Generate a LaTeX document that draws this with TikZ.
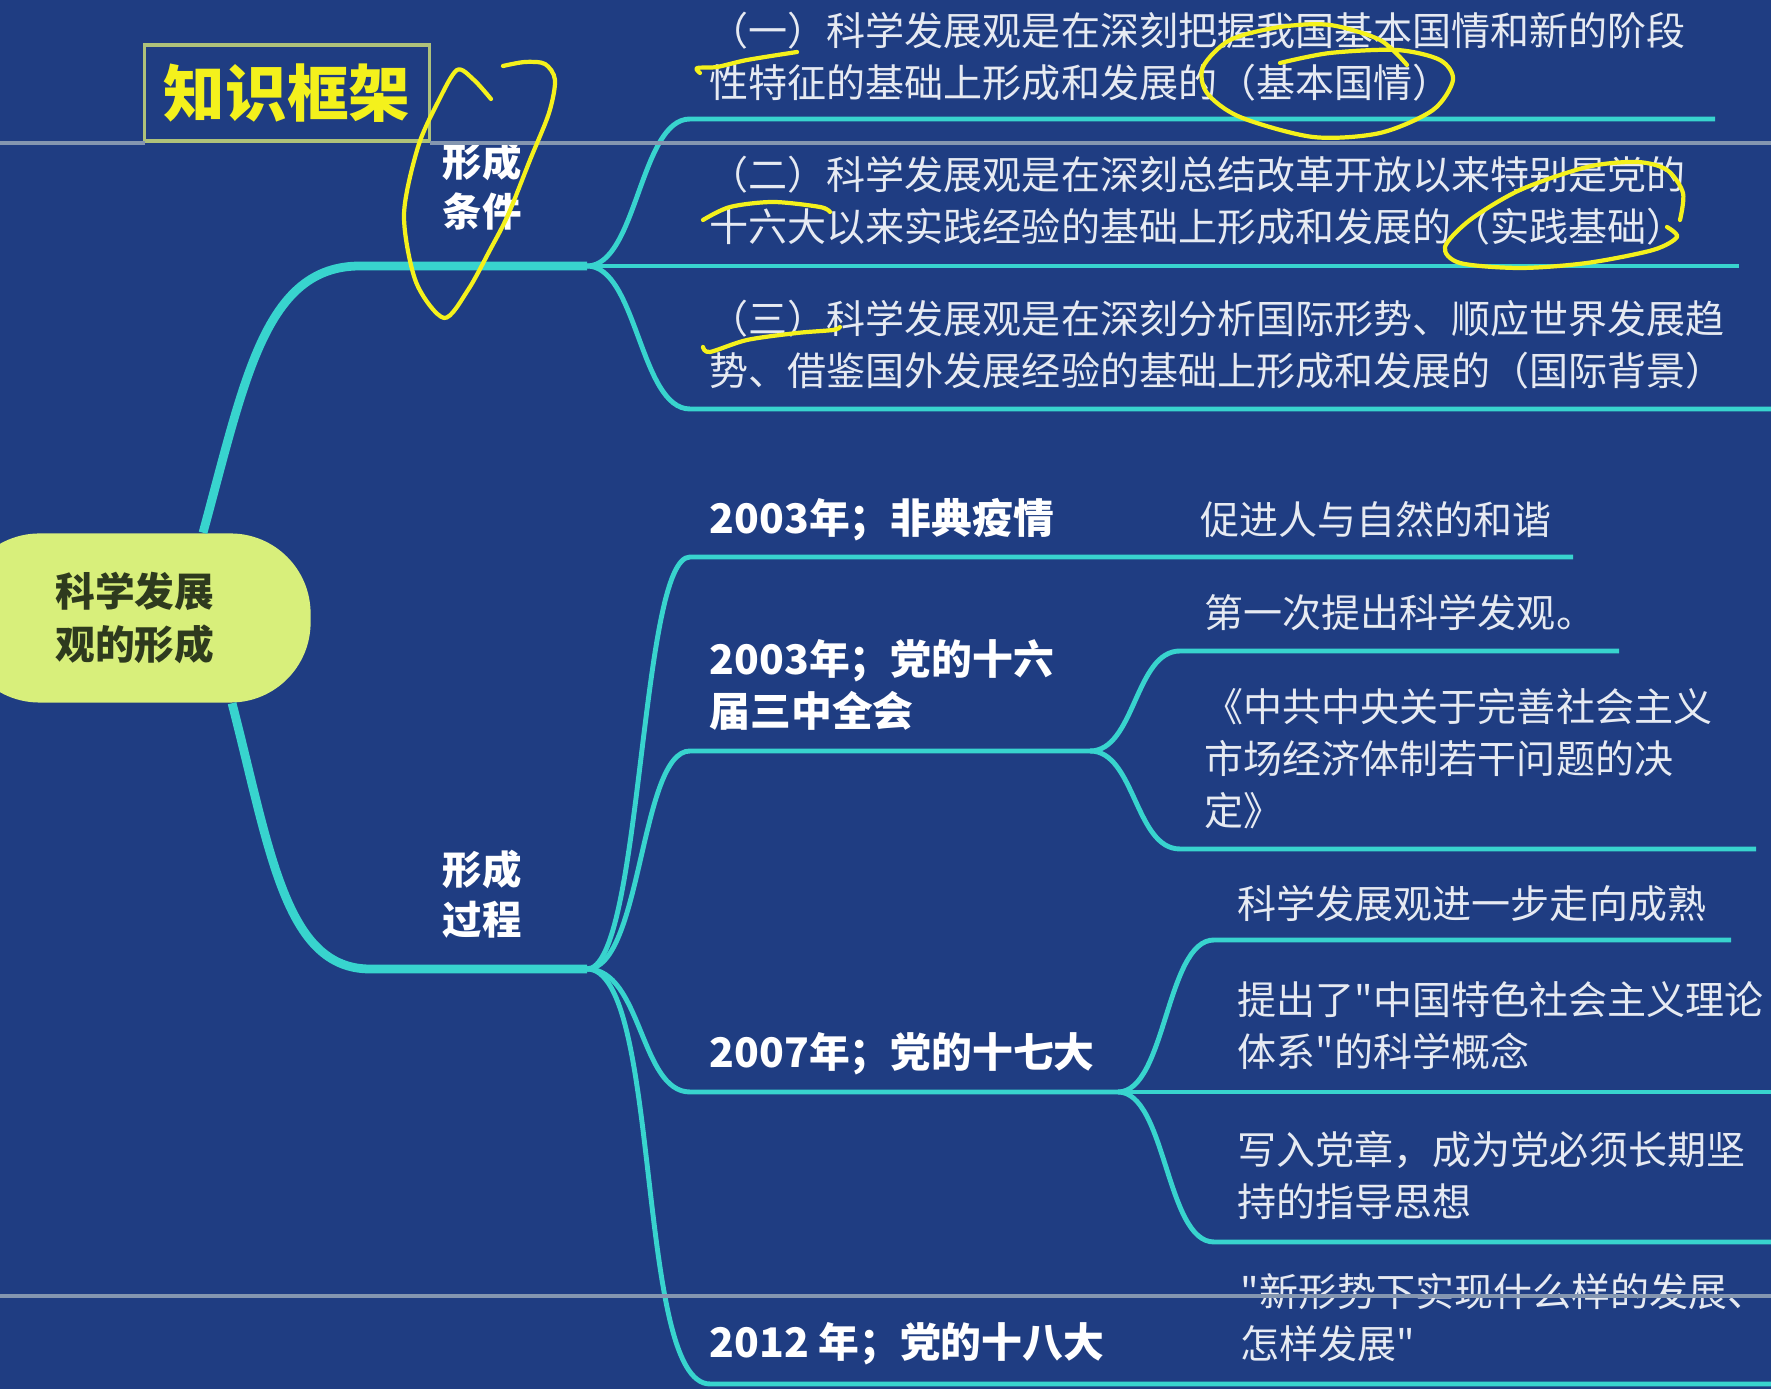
\documentclass[tikz,border=0pt]{standalone}
\usepackage{fontspec}
\setmainfont{Noto Sans CJK SC}
\newfontfamily\cjk{Noto Sans CJK SC}
\definecolor{bg}{HTML}{1F3D82}
\definecolor{branch}{HTML}{38D4CE}
\definecolor{ruleln}{HTML}{8496B0}
\definecolor{rootfill}{HTML}{D8EF7B}
\definecolor{roottxt}{HTML}{2E3A1E}
\definecolor{boxline}{HTML}{AFC27A}
\definecolor{hl}{HTML}{F4F11C}
\definecolor{txt}{HTML}{E6EAF2}
\begin{document}
\begin{tikzpicture}[x=0.01cm,y=-0.01cm,
	every node/.style={inner sep=0pt,text=txt},
	body/.style={anchor=west,align=left,font=\cjk\fontsize{11.1pt}{14.8pt}\selectfont},
	year/.style={anchor=west,align=left,font=\cjk\fontsize{11.6pt}{14.8pt}\selectfont\bfseries,text=white},
	topic/.style={align=center,font=\cjk\fontsize{11.2pt}{14.2pt}\selectfont\bfseries,text=white},
	main/.style={draw=branch,line width=2.5pt},
	sub/.style={draw=branch,line width=1.4pt},
	ruleline/.style={draw=ruleln,line width=1pt},
	scribble/.style={draw=hl,line width=1.2pt,line cap=round,line join=round}]
	\useasboundingbox (0,0) rectangle (1771,1389) ;
	\clip (0,0) rectangle (1771,1389) ;
	\fill[bg] (0,0) rectangle (1771,1389) ;

		\node (root)[fill=rootfill,rounded corners=0.8cm,minimum width=3.51cm,minimum height=1.69cm,align=center,text=roottxt,font=\cjk\fontsize{11.3pt}{15pt}\selectfont\bfseries] at (135,618) {科学发展\\观的形成} ;
		\node (kb)[draw=boxline,line width=1pt,minimum width=2.85cm,minimum height=0.96cm,text=hl,font=\cjk\fontsize{17.5pt}{20pt}\selectfont\bfseries] at (287,93) {知识框架} ;
		\node (cond)[topic] at (482,186) {形成\\条件} ;
		\node (proc)[topic] at (482,894) {形成\\过程} ;

		\coordinate (a0) at (360,266) ;
		\coordinate (A) at (587,266) ;
		\coordinate (b0) at (370,969) ;
		\coordinate (B) at (587,969) ;
		\coordinate (s1) at (690,119) ; \coordinate (e1) at (1715,119) ;
		\coordinate (e2) at (1739,266) ;
		\coordinate (s3) at (690,409) ; \coordinate (e3) at (1771,409) ;
		\coordinate (s4) at (690,557) ; \coordinate (e4) at (1573,557) ;
		\coordinate (s5) at (690,751) ; \coordinate (C) at (1090,751) ;
		\coordinate (s6) at (690,1092) ; \coordinate (D) at (1118,1092) ;
		\coordinate (s7) at (710,1384) ; \coordinate (e7) at (1771,1384) ;
		\coordinate (s8) at (1180,651) ; \coordinate (e8) at (1619,651) ;
		\coordinate (s9) at (1180,849) ; \coordinate (e9) at (1756,849) ;
		\coordinate (s10) at (1214,940) ; \coordinate (e10) at (1731,940) ;
		\coordinate (e11) at (1771,1092) ;
		\coordinate (s12) at (1214,1242) ; \coordinate (e12) at (1771,1242) ;

		\node (t1)[body] at (709,57) {（一）科学发展观是在深刻把握我国基本国情和新的阶段\\性特征的基础上形成和发展的（基本国情）} ;
		\node (t2)[body] at (709,201) {（二）科学发展观是在深刻总结改革开放以来特别是党的\\十六大以来实践经验的基础上形成和发展的（实践基础）} ;
		\node (t3)[body] at (709,345) {（三）科学发展观是在深刻分析国际形势、顺应世界发展趋\\势、借鉴国外发展经验的基础上形成和发展的（国际背景）} ;
		\node (p1)[year] at (709,520) {2003年；非典疫情} ;
		\node (p1a)[body] at (1200,520) {促进人与自然的和谐} ;
		\node (p2)[year] at (709,685) {2003年；党的十六\\届三中全会} ;
		\node (p2a)[body] at (1204,613) {第一次提出科学发观。} ;
		\node (p2b)[body] at (1204,759) {《中共中央关于完善社会主义\\市场经济体制若干问题的决\\定》} ;
		\node (p3)[year] at (709,1054) {2007年；党的十七大} ;
		\node (p3a)[body] at (1237,904) {科学发展观进一步走向成熟} ;
		\node (p3b)[body] at (1237,1026) {提出了"中国特色社会主义理论\\体系"的科学概念} ;
		\node (p3c)[body] at (1237,1175) {写入党章，成为党必须长期坚\\持的指导思想} ;
		\node (p4)[year] at (709,1344) {2012 年；党的十八大} ;
		\node (p4a)[body] at (1240,1318) {"新形势下实现什么样的发展、\\怎样发展"} ;

	\draw[main] ([xshift=0.68cm]root.north) .. controls +(42,-154) and +(-95,0) .. (a0) -- (A) ;
	\draw[main] ([xshift=0.97cm]root.south) .. controls +(38,147) and +(-85,0) .. (b0) -- (B) ;
	\draw[sub] (A) .. controls +(50,0) and +(-50,0) .. (s1) -- (e1) ;
	\draw[sub] (A) -- (e2) ;
	\draw[sub] (A) .. controls +(50,0) and +(-50,0) .. (s3) -- (e3) ;
	\draw[sub] (B) .. controls +(55,0) and +(-50,0) .. (s4) -- (e4) ;
	\draw[sub] (B) .. controls +(55,0) and +(-50,0) .. (s5) -- (C) ;
	\draw[sub] (B) .. controls +(55,0) and +(-50,0) .. (s6) -- (D) ;
	\draw[sub] (B) .. controls +(75,0) and +(-75,0) .. (s7) -- (e7) ;
	\draw[sub] (C) .. controls +(45,0) and +(-45,0) .. (s8) -- (e8) ;
	\draw[sub] (C) .. controls +(45,0) and +(-45,0) .. (s9) -- (e9) ;
	\draw[sub] (D) .. controls +(48,0) and +(-48,0) .. (s10) -- (e10) ;
	\draw[sub] (D) -- (e11) ;
	\draw[sub] (D) .. controls +(48,0) and +(-48,0) .. (s12) -- (e12) ;

	\draw[ruleline] (0,143) -- (145,143) ;
	\draw[ruleline] (430,143) -- (1771,143) ;
	\draw[ruleline] (0,1296) -- (1771,1296) ;

	\draw[scribble] plot[smooth] coordinates {(491,99) (474,80) (457,70) (438,102) (418,147) (404,215) (416,282) (444,318) (468,290) (490,250) (508,215) (530,160) (549,113) (555,80) (545,64) (525,62) (503,66)} ;
	\draw[scribble] plot[smooth] coordinates {(700,73) (697,68) (717,67) (747,60) (797,52)} ;
	\draw[scribble] plot[smooth] coordinates {(1407,65) (1380,40) (1330,25) (1280,27) (1230,40) (1203,67) (1207,93) (1240,117) (1313,137) (1380,133) (1433,110) (1453,80) (1440,60) (1397,50) (1330,53) (1280,63)} ;
	\draw[scribble] plot[smooth] coordinates {(703,220) (730,207) (773,202) (820,207) (830,212)} ;
	\draw[scribble] plot[smooth] coordinates {(1680,220) (1683,193) (1667,170) (1637,162) (1587,167) (1520,190) (1470,220) (1445,247) (1460,263) (1520,268) (1587,263) (1653,250) (1677,237) (1667,227)} ;
	\draw[scribble] plot[smooth] coordinates {(703,347) (710,352) (747,340) (797,333) (833,330) (840,327)} ;
\end{tikzpicture}
\end{document}
